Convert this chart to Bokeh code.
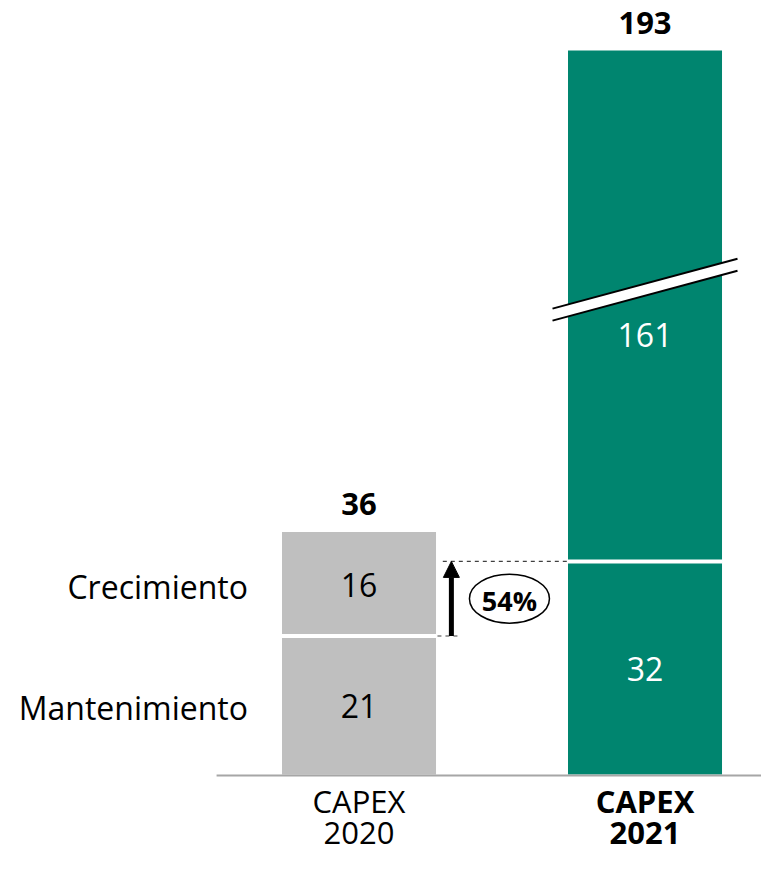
from bokeh.plotting import figure
from bokeh.models import Range1d, Arrow, NormalHead
from bokeh.core.properties import value
from bokeh.embed import file_html
from bokeh.resources import INLINE

# ---- data ----
categories = ["CAPEX 2020", "CAPEX 2021"]
series_names = ["Mantenimiento", "Crecimiento"]
mantenimiento = [20.8, 32.0]
crecimiento = [15.6, 161.0]
totals = [36, 193]
growth_label = "54%"

# ---- layout constants ----
FONT = value("Open Sans")
BAR_W = 0.5385
BREAK_TOP = 108.7      # display height of the truncated 2021 bar
BREAK_AT = 72.8        # centre of the axis-break mark
colors = ["#BFBFBF", "#00856F"]
txt_colors_in = ["#000000", "#FFFFFF"]

xs = list(range(len(categories)))
tops = [m + c for m, c in zip(mantenimiento, crecimiento)]
disp_tops = [min(t, BREAK_TOP) for t in tops]

X0, X1 = -1.2535, 1.4073
p = figure(width=761, height=855,
           x_range=Range1d(X0, X1), y_range=Range1d(-12.16, 116.22),
           output_backend="svg", toolbar_location=None, min_border=0,
           x_axis_location=None, y_axis_location=None)
p.grid.visible = False
p.outline_line_color = None

# bars
p.vbar(x=xs, width=BAR_W, bottom=0, top=mantenimiento, fill_color=colors, line_color=None)
p.vbar(x=xs, width=BAR_W, bottom=mantenimiento, top=disp_tops, fill_color=colors, line_color=None)
# white separators between segments
p.segment(x0=[x - BAR_W / 2 for x in xs], x1=[x + BAR_W / 2 for x in xs],
          y0=mantenimiento, y1=mantenimiento, line_color="white", line_width=4)

# baseline
p.segment(x0=[-0.498], x1=[X1], y0=[-0.15], y1=[-0.15], line_color="#A6A6A6", line_width=2)

# axis break marks on 2021 bar
bx = xs[1]
hw, rise, gap = 0.3234, 3.75, 0.9
p.patch(x=[bx - hw, bx + hw, bx + hw, bx - hw],
        y=[BREAK_AT + gap - rise, BREAK_AT + gap + rise, BREAK_AT - gap + rise, BREAK_AT - gap - rise],
        fill_color="white", line_color=None)
p.segment(x0=[bx - hw, bx - hw], x1=[bx + hw, bx + hw],
          y0=[BREAK_AT + gap - rise, BREAK_AT - gap - rise],
          y1=[BREAK_AT + gap + rise, BREAK_AT - gap + rise],
          line_color="black", line_width=2)

# growth arrow & dashed guides
ax = xs[0] + 0.323
p.segment(x0=[ax - 0.03], x1=[xs[1] - BAR_W / 2], y0=[mantenimiento[1]], y1=[mantenimiento[1]],
          line_color="#404040", line_width=1.2, line_dash="4 4")
p.segment(x0=[xs[0] + BAR_W / 2 + 0.005], x1=[ax + 0.03], y0=[mantenimiento[0]], y1=[mantenimiento[0]],
          line_color="#404040", line_width=1.2, line_dash="4 4")
p.add_layout(Arrow(end=NormalHead(size=16, fill_color="black", line_color="black"),
                   x_start=ax, y_start=mantenimiento[0], x_end=ax, y_end=mantenimiento[1],
                   line_width=5, line_color="black"))
mid_growth = (mantenimiento[0] + mantenimiento[1]) / 2
p.ellipse(x=[ax + 0.203], y=[mid_growth], width=80, height=49,
          width_units="screen", height_units="screen",
          fill_color="white", line_color="black", line_width=1.5)
p.text(x=[ax + 0.203], y=[mid_growth], text=[growth_label], text_font=FONT,
       text_font_size="27px", text_font_style="bold", text_align="center",
       text_baseline="middle", y_offset=2)

# inside labels
p.text(x=xs, y=[m / 2 for m in mantenimiento], text=[f"{round(m)}" for m in mantenimiento],
       text_font=FONT, text_font_size="32px", text_color=txt_colors_in,
       text_align="center", text_baseline="middle", y_offset=1)
crec_label_y = [(mantenimiento[0] + tops[0]) / 2, BREAK_AT - 6.6]
p.text(x=xs, y=crec_label_y, text=[f"{round(c)}" for c in crecimiento],
       text_font=FONT, text_font_size="32px", text_color=txt_colors_in,
       text_align="center", text_baseline="middle", y_offset=1)

# totals
p.text(x=xs, y=disp_tops, text=[str(t) for t in totals], text_font=FONT,
       text_font_size="31px", text_font_style="bold", text_align="center",
       text_baseline="middle", y_offset=-28)

# series labels on the left
p.text(x=[xs[0] - BAR_W / 2] * 2, y=[mantenimiento[0] / 2, (mantenimiento[0] + tops[0]) / 2],
       text=series_names, text_font=FONT, text_font_size="32px",
       text_align="right", text_baseline="middle", x_offset=-34, y_offset=2)

# category labels
line1 = [c.split(" ")[0] for c in categories]
line2 = [c.split(" ")[1] for c in categories]
styles = ["normal", "bold"]
for i in xs:
    p.text(x=[i], y=[0], text=[line1[i]], text_font=FONT, text_font_size="31px",
           text_font_style=styles[i], text_align="center", text_baseline="middle", y_offset=26)
    p.text(x=[i], y=[0], text=[line2[i]], text_font=FONT, text_font_size="31px",
           text_font_style=styles[i], text_align="center", text_baseline="middle", y_offset=58)

open("out.html", "w").write(file_html(p, INLINE))
